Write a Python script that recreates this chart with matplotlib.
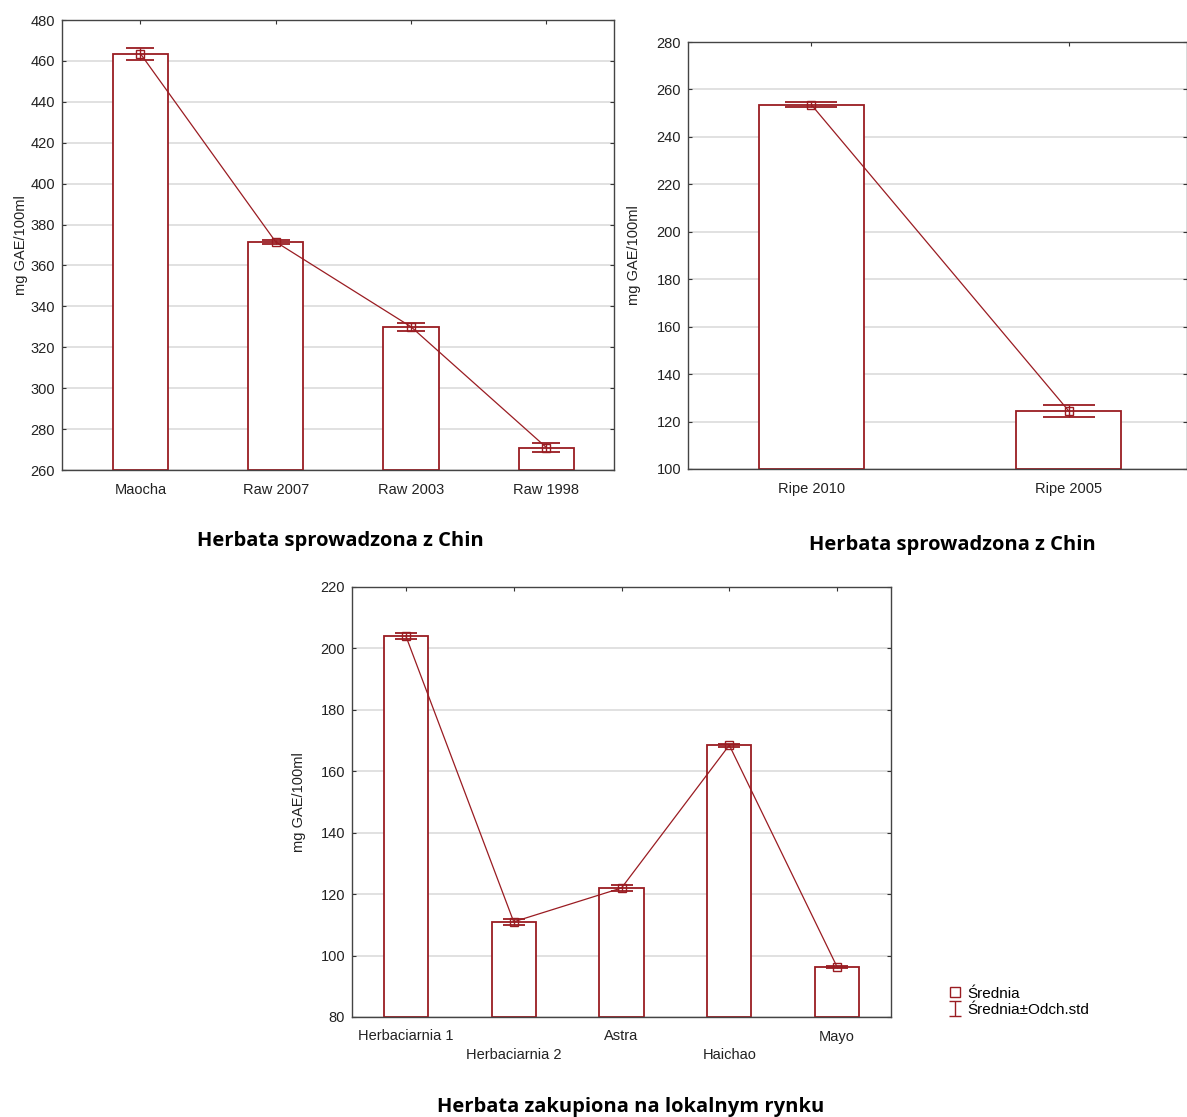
import numpy as np
import matplotlib
matplotlib.use("Agg")
import matplotlib.pyplot as plt

plt.rcParams['font.family'] = ['Liberation Sans', 'DejaVu Sans']

# dane - herbata z Chin (raw)
raw_names = ['Maocha', 'Raw 2007', 'Raw 2003', 'Raw 1998']
raw_mean = [463.5, 371.5, 330.0, 271.0]
raw_sd = [3.0, 1.0, 2.0, 2.0]

# dane - herbata z Chin (ripe)
ripe_names = ['Ripe 2010', 'Ripe 2005']
ripe_mean = [253.5, 124.5]
ripe_sd = [1.0, 2.5]

# dane - rynek lokalny
loc_names = ['Herbaciarnia 1', 'Herbaciarnia 2', 'Astra', 'Haichao', 'Mayo']
loc_mean = [204.0, 111.0, 122.0, 168.5, 96.3]
loc_sd = [1.0, 1.0, 1.0, 0.5, 0.3]

red = '#9a1c22'
W, H = 1187, 1117
fig = plt.figure(figsize=(W / 100, H / 100), dpi=100)


def panel(px, py, pw, ph, names, mean, sd, ylim, step, xlim, cap, stagger=False):
    ax = fig.add_axes([px / W, 1 - (py + ph) / H, pw / W, ph / H])
    x = np.arange(len(names))
    ax.bar(x, [m - ylim[0] for m in mean], bottom=ylim[0], width=0.41,
           facecolor='white', edgecolor=red, linewidth=1.3, zorder=2)
    ax.plot(x, mean, color=red, lw=0.9, zorder=3)
    ax.errorbar(x, mean, yerr=sd, fmt='s', ms=6, mfc='none', mec=red,
                ecolor=red, elinewidth=1.0, capsize=cap, capthick=1.3, zorder=4)
    ax.set_ylim(*ylim)
    ax.set_xlim(*xlim)
    ax.set_yticks(np.arange(ylim[0], ylim[1] + 1, step))
    ax.set_xticks(x)
    if stagger:
        ax.set_xticklabels([n if i % 2 == 0 else '\n' + n for i, n in enumerate(names)],
                           linespacing=1.4)
    else:
        ax.set_xticklabels(names)
    ax.grid(axis='y', color='#dcdcdc', lw=1.2, zorder=0)
    ax.set_axisbelow(True)
    ax.tick_params(direction='in', length=3, top=True, right=True,
                   labelsize=10.5, colors='#333333', labelcolor='#222222', pad=5)
    ax.tick_params(axis='x', pad=9)
    for s in ax.spines.values():
        s.set_color('#444444')
        s.set_linewidth(1.0)
    ax.set_ylabel('mg GAE/100ml', fontsize=10.5, color='#222222')
    return ax


ax1 = panel(62, 20, 552, 450, raw_names, raw_mean, raw_sd, (260, 480), 20,
            (-0.58, 3.5), 10)
ax1.yaxis.set_label_coords(-0.061, 0.5)
ax2 = panel(688, 42, 499, 427, ripe_names, ripe_mean, ripe_sd, (100, 280), 20,
            (-0.48, 1.46), 19)
ax2.yaxis.set_label_coords(-0.094, 0.5)
ax3 = panel(352, 587, 539, 430, loc_names, loc_mean, loc_sd, (80, 220), 20,
            (-0.5, 4.5), 8, stagger=True)
ax3.yaxis.set_label_coords(-0.085, 0.5)

# tytuly
tkw = dict(fontsize=14.5, fontweight='bold', family=['Open Sans', 'DejaVu Sans'],
           ha='center', va='center')
fig.text(340 / W, 1 - 541 / H, 'Herbata sprowadzona z Chin', **tkw)
fig.text(952 / W, 1 - 545 / H, 'Herbata sprowadzona z Chin', **tkw)
fig.text(631 / W, 1 - 1107 / H, 'Herbata zakupiona na lokalnym rynku', **tkw)

# legenda
h1, = ax3.plot([np.nan], [np.nan], 's', ms=7, mfc='none', mec=red, ls='none')
h2 = ax3.errorbar([np.nan], [np.nan], yerr=[1], fmt='none', ecolor=red,
                  capsize=4, elinewidth=1.0)
fig.legend([h1, h2], ['Średnia', 'Średnia±Odch.std'], loc='upper left',
           bbox_to_anchor=(940 / W, 1 - 979 / H), frameon=False, fontsize=11,
           handlelength=1.0, handletextpad=0.3, labelspacing=0.15, borderpad=0)

fig.savefig('out.png', dpi=100)
